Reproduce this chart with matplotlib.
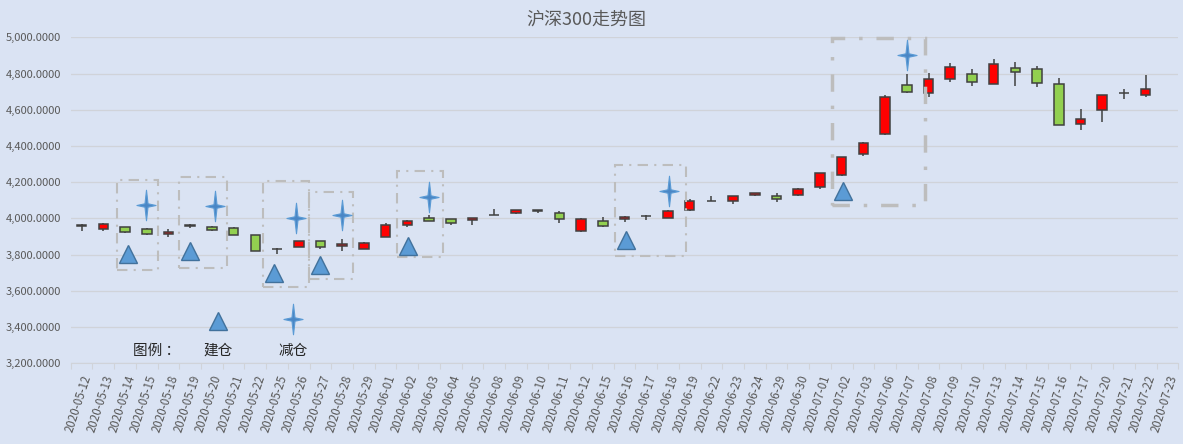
import numpy as np
import matplotlib
matplotlib.use("Agg")
import matplotlib.pyplot as plt
from matplotlib.patches import Rectangle
from matplotlib.path import Path
from matplotlib.ticker import FuncFormatter, FixedLocator

plt.rcParams['font.family'] = ['Noto Sans CJK SC', 'DejaVu Sans']

# daily CSI 300 candles (07-23 has no candle)
dates = ['2020-05-12', '2020-05-13', '2020-05-14', '2020-05-15', '2020-05-18', '2020-05-19',
         '2020-05-20', '2020-05-21', '2020-05-22', '2020-05-25', '2020-05-26', '2020-05-27',
         '2020-05-28', '2020-05-29', '2020-06-01', '2020-06-02', '2020-06-03', '2020-06-04',
         '2020-06-05', '2020-06-08', '2020-06-09', '2020-06-10', '2020-06-11', '2020-06-12',
         '2020-06-15', '2020-06-16', '2020-06-17', '2020-06-18', '2020-06-19', '2020-06-22',
         '2020-06-23', '2020-06-24', '2020-06-29', '2020-06-30', '2020-07-01', '2020-07-02',
         '2020-07-03', '2020-07-06', '2020-07-07', '2020-07-08', '2020-07-09', '2020-07-10',
         '2020-07-13', '2020-07-14', '2020-07-15', '2020-07-16', '2020-07-17', '2020-07-20',
         '2020-07-21', '2020-07-22', '2020-07-23']
opens = [3961, 3943, 3951, 3940, 3912, 3960, 3954, 3949, 3907, 3829, 3844, 3873, 3846, 3833,
         3899, 3965, 4000, 3995, 3989, 4019, 4028, 4044, 4028, 3929, 3984, 3995, 4016, 4004,
         4045, 4097, 4094, 4128, 4125, 4128, 4172, 4238, 4354, 4464, 4738, 4691, 4768, 4796,
         4740, 4832, 4823, 4740, 4523, 4597, 4694, 4683, np.nan]
highs = [3967, 3976, 3954, 3947, 3943, 3967, 3960, 3951, 3909, 3837, 3876, 3875, 3885, 3870,
         3976, 3992, 4019, 3997, 4002, 4050, 4048, 4046, 4039, 4003, 4006, 4011, 4018, 4045,
         4105, 4125, 4124, 4142, 4139, 4168, 4252, 4340, 4421, 4680, 4796, 4802, 4856, 4823,
         4878, 4864, 4840, 4774, 4602, 4680, 4712, 4790, np.nan]
lows = [3932, 3929, 3921, 3910, 3896, 3945, 3930, 3908, 3818, 3804, 3841, 3833, 3822, 3829,
        3897, 3954, 3983, 3965, 3965, 4017, 4022, 4032, 3976, 3924, 3954, 3979, 3990, 4002,
        4041, 4094, 4078, 4126, 4090, 4125, 4161, 4236, 4346, 4462, 4690, 4669, 4755, 4733,
        4740, 4729, 4724, 4514, 4486, 4534, 4661, 4672, np.nan]
closes = [3959, 3969, 3923, 3912, 3923, 3961, 3934, 3910, 3822, 3830, 3873, 3844, 3857, 3866,
          3965, 3986, 3984, 3976, 4000, 4020, 4045, 4043, 3995, 3998, 3956, 4009, 4015, 4043,
          4098, 4096, 4122, 4139, 4109, 4161, 4249, 4337, 4418, 4669, 4696, 4771, 4838, 4752,
          4851, 4807, 4746, 4514, 4547, 4680, 4695, 4713, np.nan]

# buy (建仓) and sell (减仓) marks, x in category units
buy_x = [2.15, 5.0, 8.86, 10.98, 15.05, 25.06, 35.06]
buy_y = [3805, 3818, 3701, 3740, 3850, 3881, 4149]
sell_x = [2.97, 6.15, 9.86, 12.0, 16.0, 27.06, 38.0]
sell_y = [4074, 4068, 4000, 4019, 4116, 4153, 4902]

# dashed boxes: x0, x1, y0, y1
boxes = [(1.62, 3.52, 3715, 4214), (4.47, 6.71, 3725, 4227), (8.36, 10.49, 3623, 4207),
         (10.46, 12.52, 3664, 4144), (14.52, 16.66, 3789, 4263), (24.57, 27.84, 3792, 4296),
         (34.55, 38.82, 4074, 4998)]

bg = '#DAE3F3'
fig = plt.figure(figsize=(11.83, 4.44), dpi=100, facecolor=bg)
ax = fig.add_axes([0.0598, 0.1818, 0.9362, 0.7342])
ax.set_facecolor(bg)

n = len(dates)
for i in range(n):
    o, h, l, c = opens[i], highs[i], lows[i], closes[i]
    if np.isnan(o):
        continue
    col = '#FF0000' if c > o else '#92D050'
    ax.vlines(i, l, h, color='#404040', lw=1.1, zorder=2)
    lo, hi = min(o, c), max(o, c)
    ax.add_patch(Rectangle((i - 0.22, lo), 0.44, max(hi - lo, 0.5), facecolor=col,
                           edgecolor='#404040', lw=1.1, zorder=3))

for k, (x0, x1, y0, y1) in enumerate(boxes):
    big = k == len(boxes) - 1
    lw = 2.5 if big else 1.5
    dash = (0, (5, 4, 1, 4)) if big else (0, (5, 3, 1, 3))
    ax.add_patch(Rectangle((x0, y0), x1 - x0, y1 - y0, fill=False, edgecolor='#BDBDBD',
                           lw=lw, linestyle=dash, zorder=4, clip_on=False))

star = Path([(0, 1.6), (0.16, 0.18), (1, 0), (0.16, -0.18), (0, -1.6), (-0.16, -0.18),
             (-1, 0), (-0.16, 0.18), (0, 1.6)],
            [Path.MOVETO] + [Path.LINETO] * 7 + [Path.CLOSEPOLY])

ax.plot(buy_x, buy_y, ls='none', marker='^', ms=13.5, mfc='#5B9BD5', mec='#41719C',
        mew=1, zorder=5)
ax.plot(sell_x, sell_y, ls='none', marker=star, ms=22, mfc='#4A86C5', mec='#5B9BD5',
        mew=0.8, zorder=5)

# legend drawn inside the plot
ax.plot([6.3], [3431], ls='none', marker='^', ms=13.5, mfc='#5B9BD5', mec='#41719C', mew=1)
ax.plot([9.75], [3443], ls='none', marker=star, ms=22, mfc='#4A86C5', mec='#5B9BD5', mew=0.8)
ax.text(3.43, 3268, '图例 ：', ha='center', va='center', fontsize=10.5, color='#262626')
ax.text(6.29, 3268, '建仓', ha='center', va='center', fontsize=10.5, color='#262626')
ax.text(9.72, 3268, '减仓', ha='center', va='center', fontsize=10.5, color='#262626')

ax.set_xlim(-0.5, n - 0.5)
ax.set_ylim(3200, 5000)
ax.set_yticks(np.arange(3200, 5001, 200))
ax.yaxis.set_major_formatter(FuncFormatter(lambda v, p: f'{v:,.4f}'))
ax.tick_params(axis='y', length=0, labelsize=8, labelcolor='#595959', pad=7)
ax.grid(axis='y', color='#D0D3D9', lw=0.9)
ax.set_axisbelow(True)

ax.xaxis.set_major_locator(FixedLocator(np.arange(-0.5, n, 1)))
ax.xaxis.set_minor_locator(FixedLocator(np.arange(n)))
ax.set_xticklabels([], minor=False)
ax.set_xticklabels(dates, minor=True, rotation=72, ha='right', rotation_mode='anchor',
                   fontsize=8.3, color='#595959')
ax.tick_params(axis='x', which='major', length=4, color='#D0D3D9', direction='out')
ax.tick_params(axis='x', which='minor', length=0, pad=7)

for s in ['top', 'right', 'left']:
    ax.spines[s].set_visible(False)
ax.spines['bottom'].set_color('#D0D3D9')

fig.text(0.496, 0.955, '沪深300走势图', ha='center', va='center', fontsize=13, color='#595959')

fig.savefig('out.png', dpi=100, facecolor=bg)
